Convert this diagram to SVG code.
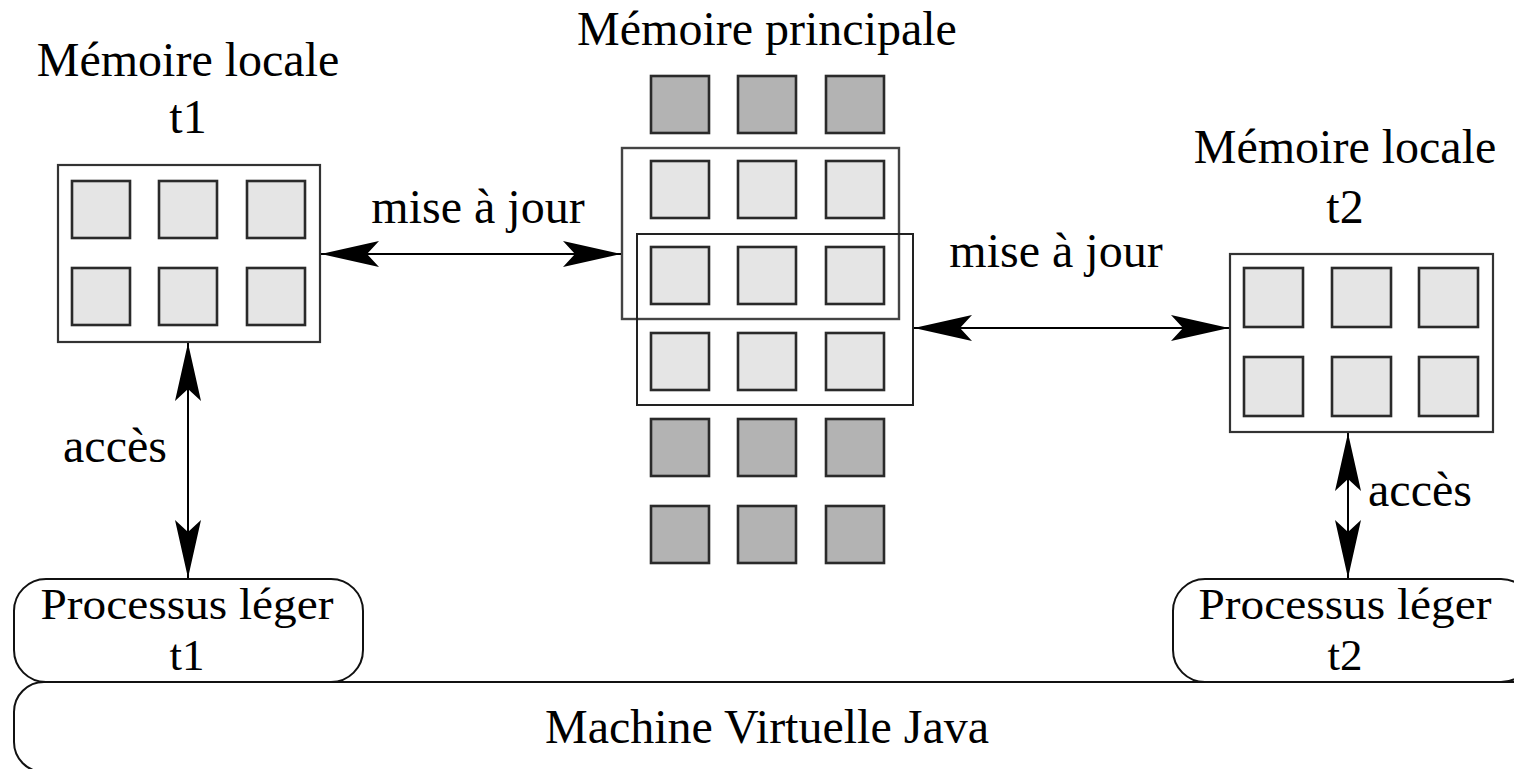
<svg xmlns="http://www.w3.org/2000/svg" width="1514" height="769" viewBox="0 0 1514 769">
<style>
text{font-family:"Liberation Serif","Times New Roman",serif;font-size:48px;fill:#000;text-anchor:middle}
.pt{font-size:45px}
.frame{fill:#fff;stroke:#333;stroke-width:2.2}
.frame2{fill:none;stroke:#222;stroke-width:2}
.lt{fill:#e5e5e5;stroke:#2a2a2a;stroke-width:2.6}
.dk{fill:#b3b3b3;stroke:#2a2a2a;stroke-width:2.6}
.pill{fill:#fff;stroke:#111;stroke-width:2}
.conn{stroke:#000;stroke-width:2;fill:none;marker-start:url(#ah);marker-end:url(#ah)}
</style>
<defs>
<marker id="ah" markerUnits="userSpaceOnUse" markerWidth="60" markerHeight="30" viewBox="-60 -15 60 30" refX="0" refY="0" orient="auto-start-reverse">
<path d="M0,0 L-58,-13 L-46,0 L-58,13 Z" fill="#000"/>
</marker>
</defs>
<rect width="1514" height="769" fill="#fff"/>

<g id="jvm">
<rect class="pill" x="14" y="682" width="1530" height="90" rx="30" ry="30"/>
<text x="767" y="743">Machine Virtuelle Java</text>
</g>

<g id="thread-t1">
<rect class="pill" x="14" y="579" width="349" height="103" rx="32" ry="32"/>
<text class="pt" x="187" y="619" textLength="293" lengthAdjust="spacingAndGlyphs">Processus léger</text>
<text class="pt" x="187" y="670">t1</text>
</g>

<g id="thread-t2">
<rect class="pill" x="1173" y="579" width="360" height="103" rx="32" ry="32"/>
<text class="pt" x="1345" y="619" textLength="293" lengthAdjust="spacingAndGlyphs">Processus léger</text>
<text class="pt" x="1345" y="670">t2</text>
</g>

<g id="local-t1">
<text x="188" y="76">Mémoire locale</text>
<text x="188" y="133">t1</text>
<rect class="frame" x="58" y="165" width="262" height="177"/>
<rect class="lt" x="72" y="181" width="58" height="57"/>
<rect class="lt" x="159" y="181" width="58" height="57"/>
<rect class="lt" x="247" y="181" width="58" height="57"/>
<rect class="lt" x="72" y="268" width="58" height="57"/>
<rect class="lt" x="159" y="268" width="58" height="57"/>
<rect class="lt" x="247" y="268" width="58" height="57"/>
</g>

<g id="main-memory">
<text x="767" y="45">Mémoire principale</text>
<rect class="dk" x="651" y="76" width="58" height="57"/>
<rect class="dk" x="738" y="76" width="58" height="57"/>
<rect class="dk" x="826" y="76" width="58" height="57"/>
<rect class="lt" x="651" y="161" width="58" height="57"/>
<rect class="lt" x="738" y="161" width="58" height="57"/>
<rect class="lt" x="826" y="161" width="58" height="57"/>
<rect class="lt" x="651" y="247" width="58" height="57"/>
<rect class="lt" x="738" y="247" width="58" height="57"/>
<rect class="lt" x="826" y="247" width="58" height="57"/>
<rect class="lt" x="651" y="333" width="58" height="57"/>
<rect class="lt" x="738" y="333" width="58" height="57"/>
<rect class="lt" x="826" y="333" width="58" height="57"/>
<rect class="dk" x="651" y="419" width="58" height="57"/>
<rect class="dk" x="738" y="419" width="58" height="57"/>
<rect class="dk" x="826" y="419" width="58" height="57"/>
<rect class="dk" x="651" y="506" width="58" height="57"/>
<rect class="dk" x="738" y="506" width="58" height="57"/>
<rect class="dk" x="826" y="506" width="58" height="57"/>
<rect class="frame2" x="622" y="148" width="277" height="171" style="stroke:#444;stroke-width:2.4"/>
<rect class="frame2" x="637" y="234" width="276" height="171"/>
</g>

<g id="connectors">
<line class="conn" x1="321" y1="254" x2="621" y2="254"/>
<line class="conn" x1="914" y1="328" x2="1229" y2="328"/>
<line class="conn" x1="188" y1="343" x2="188" y2="578"/>
<line class="conn" x1="1348" y1="433" x2="1348" y2="578"/>
<text x="478" y="223">mise à jour</text>
<text x="1056" y="267">mise à jour</text>
<text x="115" y="462">accès</text>
<text x="1420" y="506">accès</text>
</g>

<g id="local-t2">
<text x="1345" y="163">Mémoire locale</text>
<text x="1345" y="223">t2</text>
<rect class="frame" x="1230" y="254" width="263" height="178"/>
<rect class="lt" x="1244" y="268" width="59" height="59"/>
<rect class="lt" x="1332" y="268" width="59" height="59"/>
<rect class="lt" x="1419" y="268" width="59" height="59"/>
<rect class="lt" x="1244" y="357" width="59" height="59"/>
<rect class="lt" x="1332" y="357" width="59" height="59"/>
<rect class="lt" x="1419" y="357" width="59" height="59"/>
</g>
</svg>
